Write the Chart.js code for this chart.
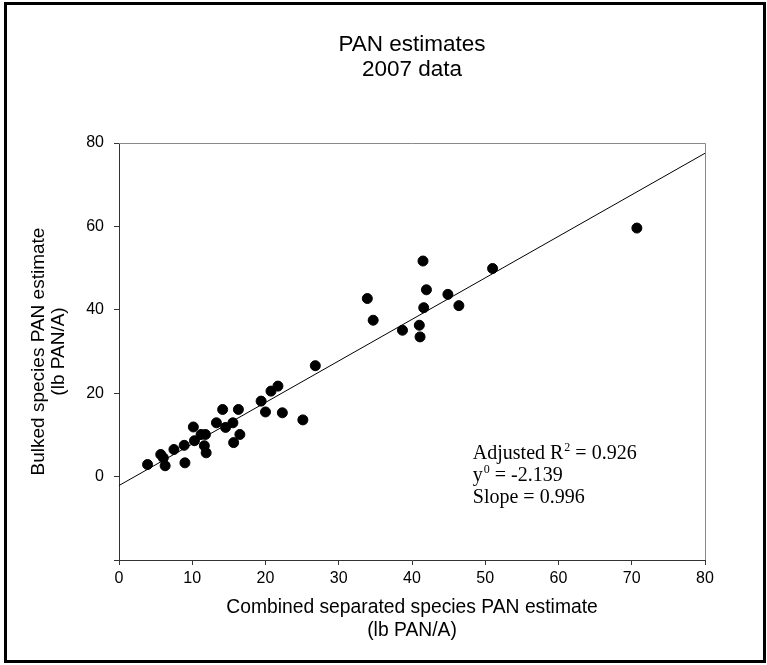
<!DOCTYPE html>
<html>
<head>
<meta charset="utf-8">
<script src="https://cdn.jsdelivr.net/npm/chart.js@4/dist/chart.umd.min.js"></script>
<style>
  html, body { margin: 0; padding: 0; background: #fff; }
  canvas { display: block; }
</style>
</head>
<body>
<canvas id="c" width="767" height="665"></canvas>
<script>
// ---- data ----
const sepX = [3.9, 5.7, 6.05, 6.3, 7.5, 8.9, 9.0, 10.15, 10.3, 11.2, 11.8, 11.65, 11.9, 13.3, 14.15, 14.55, 15.55, 15.65, 16.3, 16.5, 19.4, 20.0, 20.75, 21.7, 22.3, 25.1, 26.8, 33.9, 34.7, 38.7, 41.0, 41.1, 41.5, 41.6, 41.97, 44.9, 46.4, 51.0, 70.7];
const bulkY = [2.9, 5.3, 4.5, 2.6, 6.5, 7.5, 3.3, 11.9, 8.6, 10.1, 10.1, 7.4, 5.7, 12.9, 16.1, 11.8, 12.9, 8.15, 16.1, 10.1, 18.1, 15.5, 20.5, 21.7, 15.3, 13.6, 26.6, 42.7, 37.5, 35.1, 36.3, 33.5, 51.7, 40.5, 44.8, 43.7, 41.0, 49.9, 59.6];
const fitX = [0, 80];
const fitY = [-2.139, 77.54];
const xTicks = [0, 10, 20, 30, 40, 50, 60, 70, 80];
const yTicks = [0, 20, 40, 60, 80];
const titleLines = ['PAN estimates', '2007 data'];
const xTitle = ['Combined separated species PAN estimate', '(lb PAN/A)'];
const yTitle = ['Bulked species PAN estimate', '(lb PAN/A)'];
const statLines = [
  { text: 'Adjusted R', sup: '2', rest: ' = 0.926' },
  { text: 'y', sup: '0', rest: ' = -2.139' },
  { text: 'Slope = 0.996', sup: '', rest: '' }
];

const SANS = "'Liberation Sans', Arial, sans-serif";
const SERIF = "'Liberation Serif', 'Times New Roman', serif";

const framePlugin = {
  id: 'frame',
  beforeDatasetsDraw(chart) {
    const { ctx, chartArea: a } = chart;
    ctx.save();
    ctx.strokeStyle = '#888';
    ctx.lineWidth = 1;
    ctx.beginPath();
    ctx.moveTo(a.left, a.top + 0.5);
    ctx.lineTo(a.right + 0.5, a.top + 0.5);
    ctx.lineTo(a.right + 0.5, a.bottom);
    ctx.stroke();
    ctx.restore();
  },
  afterDraw(chart) {
    const { ctx } = chart;
    ctx.save();
    ctx.strokeStyle = '#000';
    ctx.lineWidth = 3;
    ctx.strokeRect(5.5, 3.5, 759, 658);
    ctx.restore();
  }
};

const statsPlugin = {
  id: 'stats',
  afterDatasetsDraw(chart) {
    const { ctx } = chart;
    const xs = chart.scales.x, ys = chart.scales.y;
    const x0 = xs.getPixelForValue(48.3);
    let yb = ys.getPixelForValue(4.3);
    ctx.save();
    ctx.fillStyle = '#000';
    ctx.textBaseline = 'alphabetic';
    ctx.textAlign = 'left';
    statLines.forEach(l => {
      let x = x0;
      ctx.font = '20px ' + SERIF;
      ctx.fillText(l.text, x, yb);
      x += ctx.measureText(l.text).width;
      if (l.sup) {
        ctx.font = '12px ' + SERIF;
        ctx.fillText(l.sup, x + 1, yb - 8);
        x += ctx.measureText(l.sup).width + 1;
      }
      if (l.rest) {
        ctx.font = '20px ' + SERIF;
        ctx.fillText(l.rest, x, yb);
      }
      yb += 22;
    });
    ctx.restore();
  }
};

new Chart(document.getElementById('c'), {
  type: 'scatter',
  data: {
    datasets: [
      {
        type: 'line',
        data: fitX.map((x, i) => ({ x, y: fitY[i] })),
        borderColor: '#000',
        borderWidth: 1,
        pointRadius: 0,
        fill: false,
        order: 2
      },
      {
        data: sepX.map((x, i) => ({ x, y: bulkY[i] })),
        backgroundColor: '#000',
        borderColor: '#000',
        pointRadius: 5,
        pointHoverRadius: 5,
        order: 1
      }
    ]
  },
  options: {
    responsive: false,
    animation: false,
    devicePixelRatio: 1,
    layout: { padding: { top: 33, left: 0, right: 62, bottom: 0 } },
    plugins: {
      legend: { display: false },
      tooltip: { enabled: false },
      title: {
        display: true,
        fullSize: false,
        text: titleLines,
        color: '#000',
        font: { family: SANS, size: 22.5, weight: 'normal', lineHeight: 1.08 },
        padding: { top: 0, bottom: 61.4 }
      }
    },
    scales: {
      x: {
        type: 'linear',
        min: 0, max: 80,
        afterBuildTicks(s) { s.ticks = xTicks.map(v => ({ value: v })); },
        afterFit(s) { s.height = 105; },
        ticks: { color: '#000', font: { family: SANS, size: 16 }, padding: 4, maxRotation: 0 },
        grid: { drawOnChartArea: false, drawTicks: true, tickLength: 5, color: '#333' },
        border: { display: true, color: '#333', width: 1 },
        title: {
          display: true, text: xTitle, color: '#000',
          font: { family: SANS, size: 19.3, lineHeight: 1.2 },
          padding: { top: 0, bottom: 23 }
        }
      },
      y: {
        type: 'linear',
        min: -20, max: 80,
        afterBuildTicks(s) { s.ticks = [-20].concat(yTicks).map(v => ({ value: v })); },
        afterFit(s) { s.width = 119; },
        ticks: {
          color: '#000', font: { family: SANS, size: 16 }, padding: 10,
          callback: (v) => (yTicks.includes(v) ? String(v) : '')
        },
        grid: { drawOnChartArea: false, drawTicks: true, tickLength: 5, color: '#333' },
        border: { display: true, color: '#333', width: 1 },
        title: {
          display: true, text: yTitle, color: '#000',
          font: { family: SANS, size: 19, lineHeight: 1.05 },
          padding: { top: 29, bottom: 0 }
        }
      }
    }
  },
  plugins: [framePlugin, statsPlugin]
});
</script>
</body>
</html>
